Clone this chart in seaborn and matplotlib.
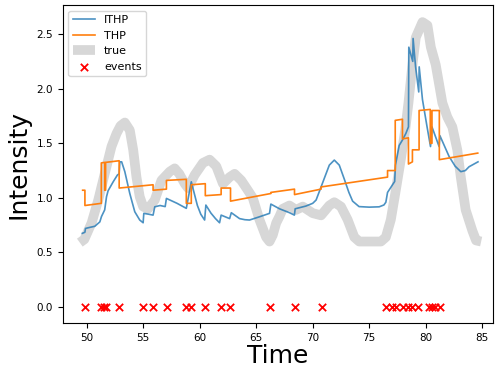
import matplotlib
matplotlib.use("Agg")
import matplotlib.pyplot as plt
import seaborn as sns
import pandas as pd
import numpy as np

# event times (all drawn at y = 0)
events = [49.85, 51.3, 51.55, 51.75, 52.9, 55.0, 55.9, 57.1, 58.75, 59.25,
          60.5, 61.85, 62.7, 66.25, 68.4, 70.8, 76.45, 77.05, 77.4, 78.0,
          78.4, 78.75, 79.3, 80.3, 80.55, 80.8, 81.25]

# THP intensity (piecewise, repeated times = jumps)
thp_t = [49.65, 49.85, 49.85, 51.3, 51.3, 51.6, 51.6, 51.68, 51.68, 52.88,
         52.88, 55.88, 55.88, 57.06, 57.06, 58.82, 58.82, 59.26, 59.26, 60.5,
         60.5, 61.9, 61.9, 62.73, 62.73, 66.3, 66.3, 68.39, 68.39, 70.74,
         70.74, 76.62, 76.62, 77.3, 77.3, 77.94, 77.94, 78.47, 78.47, 78.82,
         78.82, 79.41, 79.41, 80.4, 80.4, 80.55, 80.55, 81.2, 81.2, 84.6]
thp_v = [1.07, 1.07, 0.93, 0.95, 1.32, 1.325, 1.07, 1.07, 1.325, 1.34,
         1.09, 1.12, 1.07, 1.08, 1.16, 1.17, 0.95, 0.95, 1.12, 1.13,
         1.02, 1.03, 1.09, 1.09, 0.97, 1.04, 1.05, 1.08, 1.03, 1.08,
         1.10, 1.19, 1.25, 1.25, 1.71, 1.72, 1.54, 1.55, 1.31, 1.33,
         1.44, 1.44, 1.80, 1.81, 1.50, 1.50, 1.80, 1.80, 1.35, 1.41]

# ITHP intensity
ithp_t = [49.62, 49.85, 49.9, 50.3, 50.73, 51.17, 51.32, 51.6, 51.76, 51.9,
          52.35, 52.73, 52.88, 52.94, 53.1, 53.38, 53.82, 54.26, 54.7, 55.0,
          55.06, 55.5, 55.88, 56.03, 56.5, 56.95, 57.06, 58.0, 58.82, 59.26,
          59.5, 59.8, 60.1, 60.44, 60.55, 61.0, 61.4, 61.76, 61.9, 62.65,
          62.8, 63.53, 64.0, 64.41, 65.3, 66.18, 66.3, 67.06, 67.95, 68.38,
          68.45, 69.4, 70.0, 70.3, 70.74, 71.03, 71.47, 71.91, 72.35, 72.8,
          73.2, 73.53, 74.1, 75.0, 75.88, 76.3, 76.47, 76.62, 77.06, 77.25,
          77.32, 77.65, 77.94, 78.24, 78.47, 78.5, 78.85, 78.88, 79.1, 79.38,
          79.42, 79.71, 80.1, 80.42, 80.55, 81.18, 81.25, 82.06, 82.6, 83.1,
          83.5, 83.83, 84.62]
ithp_v = [0.675, 0.685, 0.72, 0.73, 0.74, 0.78, 0.83, 0.89, 1.01, 1.065,
          1.147, 1.21, 1.22, 1.33, 1.33, 1.24, 1.04, 0.873, 0.797, 0.772,
          0.858, 0.85, 0.842, 0.918, 0.93, 0.92, 0.995, 0.95, 0.904, 1.147,
          1.05, 0.93, 0.85, 0.797, 0.934, 0.86, 0.81, 0.772, 0.842, 0.81,
          0.864, 0.81, 0.80, 0.797, 0.827, 0.858, 0.943, 0.90, 0.864, 0.842,
          0.90, 0.925, 0.95, 0.98, 1.10, 1.18, 1.30, 1.346, 1.30, 1.17,
          1.05, 0.97, 0.92, 0.915, 0.918, 0.935, 0.96, 1.05, 1.12, 1.15,
          1.30, 1.48, 1.53, 1.59, 1.65, 2.38, 2.25, 2.46, 2.2, 1.97,
          2.2, 1.9, 1.66, 1.47, 1.65, 1.47, 1.57, 1.38, 1.29, 1.24,
          1.25, 1.285, 1.33]

# true intensity
true_t = [49.4, 49.8, 50.44, 51.03, 51.6, 52.2, 52.65, 53.0, 53.38, 53.82,
          54.12, 54.41, 54.7, 55.0, 55.44, 56.03, 56.62, 57.35, 57.79, 58.2,
          58.68, 58.97, 59.56, 60.29, 60.88, 61.47, 62.06, 62.65, 63.09, 63.68,
          64.26, 64.7, 65.29, 65.88, 66.18, 66.47, 66.77, 67.06, 67.35, 67.94,
          68.53, 69.12, 69.56, 70.0, 70.74, 71.47, 71.91, 72.5, 73.09, 73.68,
          74.12, 76.03, 76.47, 76.91, 77.35, 77.79, 78.18, 78.47, 78.8, 79.12,
          79.71, 80.15, 80.45, 80.88, 81.47, 81.91, 82.35, 82.79, 83.1, 83.53,
          84.12, 84.45, 84.9]
true_v = [0.59, 0.62, 0.77, 0.98, 1.22, 1.47, 1.59, 1.66, 1.69, 1.62,
          1.44, 1.19, 1.01, 0.92, 0.90, 0.98, 1.16, 1.24, 1.27, 1.22,
          1.13, 1.09, 1.21, 1.32, 1.35, 1.29, 1.13, 1.19, 1.22, 1.16,
          1.07, 1.0, 0.80, 0.64, 0.60, 0.66, 0.77, 0.83, 0.90, 0.93,
          0.89, 0.92, 0.89, 0.86, 0.84, 0.93, 0.96, 0.92, 0.80, 0.64,
          0.60, 0.60, 0.64, 0.80, 1.07, 1.35, 1.62, 1.87, 2.2, 2.47,
          2.61, 2.58, 2.38, 2.22, 1.87, 1.74, 1.65, 1.44, 1.19, 0.89,
          0.70, 0.61, 0.60]

df_ithp = pd.DataFrame({"t": ithp_t, "v": ithp_v})
df_thp = pd.DataFrame({"t": thp_t, "v": thp_v})
df_true = pd.DataFrame({"t": true_t, "v": true_v})
df_ev = pd.DataFrame({"t": events, "v": np.zeros(len(events))})

fig, ax = plt.subplots(figsize=(4.95, 3.69), dpi=100)
fig.subplots_adjust(left=0.127, right=0.996, bottom=0.125, top=0.986)

sns.lineplot(data=df_ithp, x="t", y="v", estimator=None, sort=False,
             color="#1f77b4", alpha=0.8, linewidth=1.2, label="ITHP", ax=ax, zorder=3)
sns.lineplot(data=df_thp, x="t", y="v", estimator=None, sort=False,
             color="#ff7f0e", linewidth=1.2, label="THP", ax=ax, zorder=3)
sns.lineplot(data=df_true, x="t", y="v", estimator=None, sort=False,
             color="#d7d7d7", linewidth=7, label="true", ax=ax, zorder=1,
             solid_joinstyle="round", solid_capstyle="butt")
sns.scatterplot(data=df_ev, x="t", y="v", marker="x", color="red", s=28,
                linewidth=1.3, label="events", ax=ax, zorder=4)

ax.set_xlim(47.9, 85.95)
ax.set_ylim(-0.145, 2.765)
ax.set_xticks([50, 55, 60, 65, 70, 75, 80, 85])
ax.set_yticks([0.0, 0.5, 1.0, 1.5, 2.0, 2.5])
ax.tick_params(labelsize=7.5)
ax.set_xlabel("Time", fontsize=18, labelpad=1)
ax.set_ylabel("Intensity", fontsize=18)
ax.legend(loc="upper left", fontsize=8)

plt.savefig("out.png", dpi=100)
